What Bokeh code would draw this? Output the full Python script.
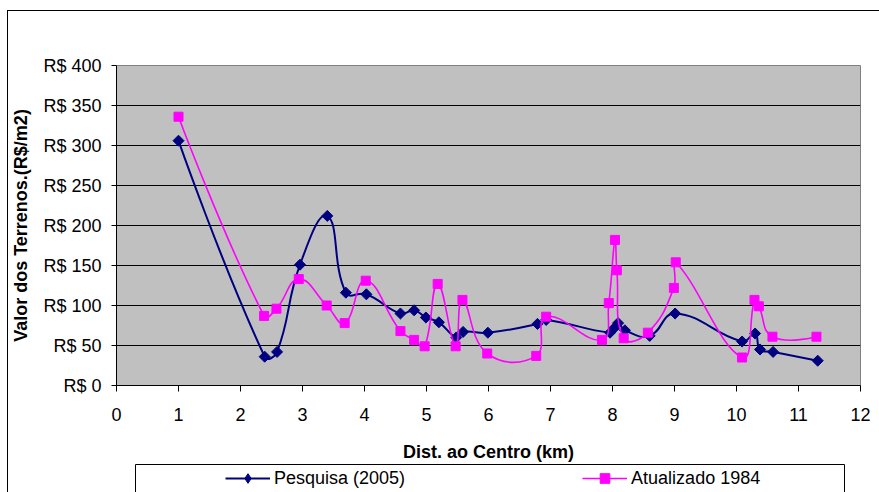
from bokeh.plotting import figure
from bokeh.layouts import column
from bokeh.models import (ColumnDataSource, Range1d, FixedTicker, PrintfTickFormatter,
                          Legend, LegendItem)
from bokeh.embed import file_html
from bokeh.resources import INLINE
import math

# Land values by distance from the city centre
dist_pesquisa = [1.00, 2.39, 2.59, 2.96, 3.40, 3.70, 4.03, 4.58, 4.80, 4.99, 5.20, 5.48, 5.59,
                 5.99, 6.79, 6.93, 7.96, 8.03, 8.09, 8.20, 8.60, 9.01, 10.09, 10.30, 10.38,
                 10.59, 11.31]
valor_pesquisa = [306, 36, 42, 151, 212, 116, 114, 90, 94, 85, 79, 60, 67,
                  66, 77, 82, 66, 72, 78, 69, 62, 90, 55, 65, 45,
                  42, 31]

dist_1984 = [1.00, 2.38, 2.58, 2.94, 3.39, 3.68, 4.02, 4.58, 4.80, 4.97, 5.18, 5.47, 5.58,
             5.98, 6.77, 6.93, 7.83, 7.94, 8.04, 8.07, 8.18, 8.57, 8.99, 9.02, 10.09,
             10.29, 10.36, 10.58, 11.29]
valor_1984 = [336, 87, 96, 133, 100, 78, 131, 68, 57, 49, 127, 49, 107,
              40, 37, 86, 57, 103, 182, 144, 59, 66, 122, 154, 35,
              107, 99, 61, 61]

series_names = ["Pesquisa (2005)", "Atualizado 1984"]
x_ticks = list(range(0, 13))
y_ticks = list(range(0, 401, 50))

FONT = "Liberation Sans"
NAVY = "#000080"
MAGENTA = "#FF00FF"

# pixels per data unit, used only to measure segment lengths for the smoothing
PX_X, PX_Y = 62.0, 0.8
TENSION = 0.45


def smooth_segments(xs, ys):
    """Cubic Bezier segments through the points, with control arms
    proportional to the neighbouring segment lengths."""
    pts = [(x * PX_X, y * PX_Y) for x, y in zip(xs, ys)]
    n = len(pts)
    before = [None] * n
    after = [None] * n
    for i in range(n):
        if i == 0 or i == n - 1:
            before[i] = after[i] = pts[i]
            continue
        p0, p1, p2 = pts[i - 1], pts[i], pts[i + 1]
        d01 = math.hypot(p1[0] - p0[0], p1[1] - p0[1])
        d12 = math.hypot(p2[0] - p1[0], p2[1] - p1[1])
        tot = d01 + d12 or 1.0
        fa = TENSION * d01 / tot
        fb = TENSION * d12 / tot
        dx, dy = p2[0] - p0[0], p2[1] - p0[1]
        before[i] = (p1[0] - fa * dx, p1[1] - fa * dy)
        after[i] = (p1[0] + fb * dx, p1[1] + fb * dy)
    seg = dict(x0=[], y0=[], x1=[], y1=[], cx0=[], cy0=[], cx1=[], cy1=[])
    for i in range(n - 1):
        seg["x0"].append(xs[i])
        seg["y0"].append(ys[i])
        seg["x1"].append(xs[i + 1])
        seg["y1"].append(ys[i + 1])
        seg["cx0"].append(after[i][0] / PX_X)
        seg["cy0"].append(after[i][1] / PX_Y)
        seg["cx1"].append(before[i + 1][0] / PX_X)
        seg["cy1"].append(before[i + 1][1] / PX_Y)
    return ColumnDataSource(seg)


# ---- main chart ----
p = figure(frame_width=744, frame_height=320, x_range=Range1d(0, 12), y_range=Range1d(0, 400),
           output_backend="svg", toolbar_location=None, frame_align=False,
           min_border_left=108, min_border_right=19, min_border_top=54, min_border_bottom=77)

p.background_fill_color = "#C0C0C0"
p.border_fill_color = "white"
p.outline_line_color = "#808080"
p.outline_line_width = 1

p.xgrid.visible = False
p.ygrid.ticker = FixedTicker(ticks=y_ticks)
p.ygrid.grid_line_color = "black"
p.ygrid.grid_line_width = 1

p.xaxis.ticker = FixedTicker(ticks=x_ticks)
p.yaxis.ticker = FixedTicker(ticks=y_ticks)
p.yaxis.formatter = PrintfTickFormatter(format="R$ %d")

for ax in (p.xaxis[0], p.yaxis[0]):
    ax.axis_line_color = "black"
    ax.major_tick_line_color = "black"
    ax.major_tick_in = 0
    ax.minor_tick_line_color = None
    ax.major_label_text_font = FONT
    ax.major_label_text_font_size = "18px"
    ax.major_label_text_color = "black"
    ax.axis_label_text_font = FONT
    ax.axis_label_text_font_size = "18px"
    ax.axis_label_text_font_style = "bold"
    ax.axis_label_text_color = "black"

p.xaxis.major_tick_out = 6
p.xaxis.major_label_standoff = 16
p.xaxis.axis_label = "Dist. ao Centro (km)"
p.xaxis.axis_label_standoff = 18

p.yaxis.major_tick_out = 5
p.yaxis.major_label_standoff = 10
p.yaxis.axis_label = "Valor dos Terrenos.(R$/m2)"
p.yaxis.axis_label_standoff = 9

p.bezier(x0="x0", y0="y0", x1="x1", y1="y1", cx0="cx0", cy0="cy0", cx1="cx1", cy1="cy1",
         source=smooth_segments(dist_pesquisa, valor_pesquisa),
         line_color=NAVY, line_width=2)
p.scatter(dist_pesquisa, valor_pesquisa, marker="square", angle=math.pi / 4, size=7.8,
          fill_color=NAVY, line_color=NAVY)

p.bezier(x0="x0", y0="y0", x1="x1", y1="y1", cx0="cx0", cy0="cy0", cx1="cx1", cy1="cy1",
         source=smooth_segments(dist_1984, valor_1984),
         line_color=MAGENTA, line_width=1.6)
p.scatter(dist_1984, valor_1984, marker="square", size=9,
          fill_color=MAGENTA, line_color=MAGENTA)

# ---- legend row: its frame is the legend box; the series renderers here
# are hidden and only provide the legend swatches ----
key = figure(frame_width=709, frame_height=30, x_axis_type=None, y_axis_type=None,
             output_backend="svg", toolbar_location=None, frame_align=False,
             min_border_left=127, min_border_right=35, min_border_top=0, min_border_bottom=0)
key.grid.visible = False
key.outline_line_color = "black"
key.outline_line_width = 1
key.background_fill_color = "white"
key.border_fill_color = "white"

k_line1 = key.line(dist_pesquisa, valor_pesquisa, line_color=NAVY, line_width=2, visible=False)
k_pts1 = key.scatter(dist_pesquisa, valor_pesquisa, marker="diamond",
                     fill_color=NAVY, line_color=NAVY, visible=False)
k_line2 = key.line(dist_1984, valor_1984, line_color=MAGENTA, line_width=1.6, visible=False)
k_pts2 = key.scatter(dist_1984, valor_1984, marker="square",
                     fill_color=MAGENTA, line_color=MAGENTA, visible=False)

legend = Legend(items=[LegendItem(label=series_names[0], renderers=[k_line1, k_pts1]),
                       LegendItem(label=series_names[1], renderers=[k_line2, k_pts2])],
                orientation="horizontal", location=(90, 4), padding=0, margin=0,
                spacing=177, glyph_width=45, glyph_height=24, label_standoff=4,
                border_line_alpha=0, background_fill_alpha=0,
                inactive_fill_alpha=0, click_policy="none",
                label_text_font=FONT, label_text_font_size="18px", label_text_color="black")
key.add_layout(legend, "center")

layout = column(p, key, spacing=0,
                styles={"margin-left": "7px", "margin-top": "10px",
                        "border-left": "1px solid black", "border-top": "1px solid black"})

open("out.html", "w").write(file_html(layout, INLINE))
